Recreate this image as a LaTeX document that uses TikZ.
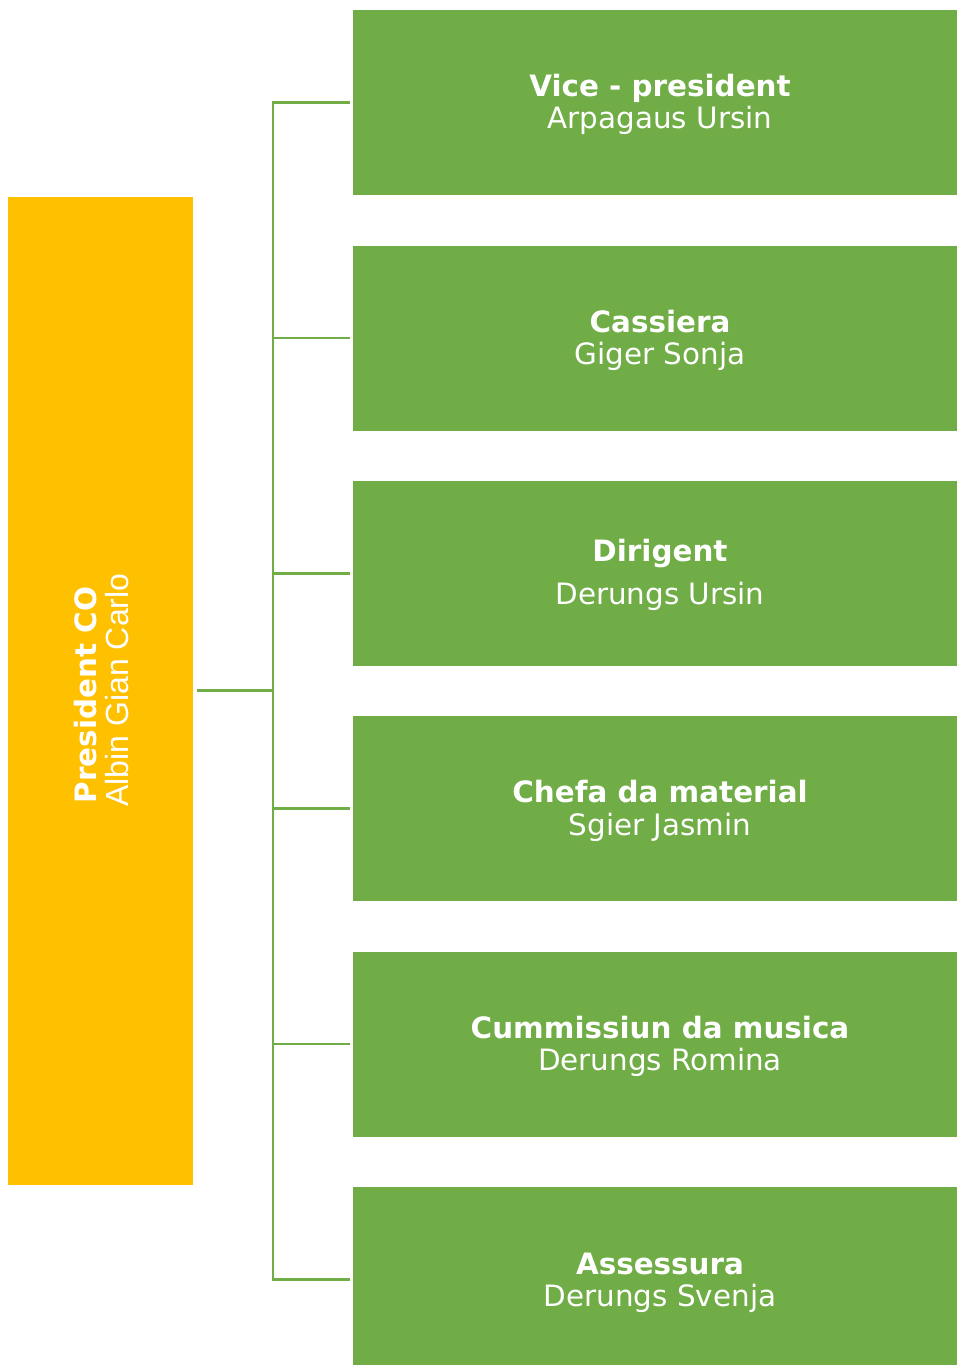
\documentclass[tikz,border=0pt]{standalone}
\usepackage{fontspec}
\setmainfont{DejaVu Sans}
\newfontfamily\arialfont{Liberation Sans}
\definecolor{ogreen}{HTML}{70AD47}
\definecolor{oyellow}{HTML}{FFC000}
\begin{document}
\begin{tikzpicture}[x=1pt,y=-1pt,
  gbox/.style={fill=ogreen, draw=none, minimum width=604pt, minimum height=185pt, inner sep=0pt, anchor=north west},
  ybox/.style={fill=oyellow, draw=none, minimum width=185pt, minimum height=988pt, inner sep=0pt, anchor=north west},
  ttl/.style={text=white, font=\fontsize{29.4}{31}\selectfont\bfseries, anchor=base, inner sep=0pt},
  nm/.style={text=white, font=\fontsize{29.4}{31}\selectfont, anchor=base, inner sep=0pt},
  link/.style={draw=ogreen, line width=2.4pt},
  mainlink/.style={draw=ogreen, line width=3pt}]
\useasboundingbox (0,0) rectangle (957,1365);
\clip (0,0) rectangle (957,1365);
\fill[white] (0,0) rectangle (957,1365);
% president
\node[ybox] (pres) at (8,197) {};
\node[ttl, rotate=90] (presT) at (96,695) {President CO};
\node[text=white, font=\arialfont\fontsize{32}{34}\selectfont, anchor=base, inner sep=0pt, rotate=90] (presN) at (128,690) {Albin Gian Carlo};
% boxes
\node[gbox] (b1) at (353,10) {};
\node[gbox] (b2) at (353,245.5) {};
\node[gbox] (b3) at (353,481) {};
\node[gbox] (b4) at (353,716) {};
\node[gbox] (b5) at (353,951.5) {};
\node[gbox] (b6) at (353,1187) {};
% texts
\node[ttl] (t1) at (660,96) {Vice - president};
\node[nm]  (n1) at (660,128) {Arpagaus Ursin};
\node[ttl] (t2) at (660,332) {Cassiera};
\node[nm]  (n2) at (660,364) {Giger Sonja};
\node[ttl] (t3) at (660,561) {Dirigent};
\node[nm]  (n3) at (660,604) {Derungs Ursin};
\node[ttl] (t4) at (660,802) {Chefa da material};
\node[nm]  (n4) at (660,835) {Sgier Jasmin};
\node[ttl] (t5) at (660,1038) {Cummissiun da musica};
\node[nm]  (n5) at (660,1070) {Derungs Romina};
\node[ttl] (t6) at (660,1274) {Assessura};
\node[nm]  (n6) at (660,1306) {Derungs Svenja};
% connectors
\coordinate (hub) at (273,690.5);
\coordinate (s1) at (273,102.5);
\coordinate (s2) at (273,338);
\coordinate (s3) at (273,573.5);
\coordinate (s4) at (273,808.5);
\coordinate (s5) at (273,1044);
\coordinate (s6) at (273,1279.5);
\draw[mainlink] ([xshift=4pt]pres.east |- hub) -- (hub);
\draw[link, line cap=rect] (s1) -- (s6);
\foreach \i in {1,...,6} {
  \draw[link] (s\i) -- ([xshift=-3pt]b\i.west |- s\i);
}
\end{tikzpicture}
\end{document}
